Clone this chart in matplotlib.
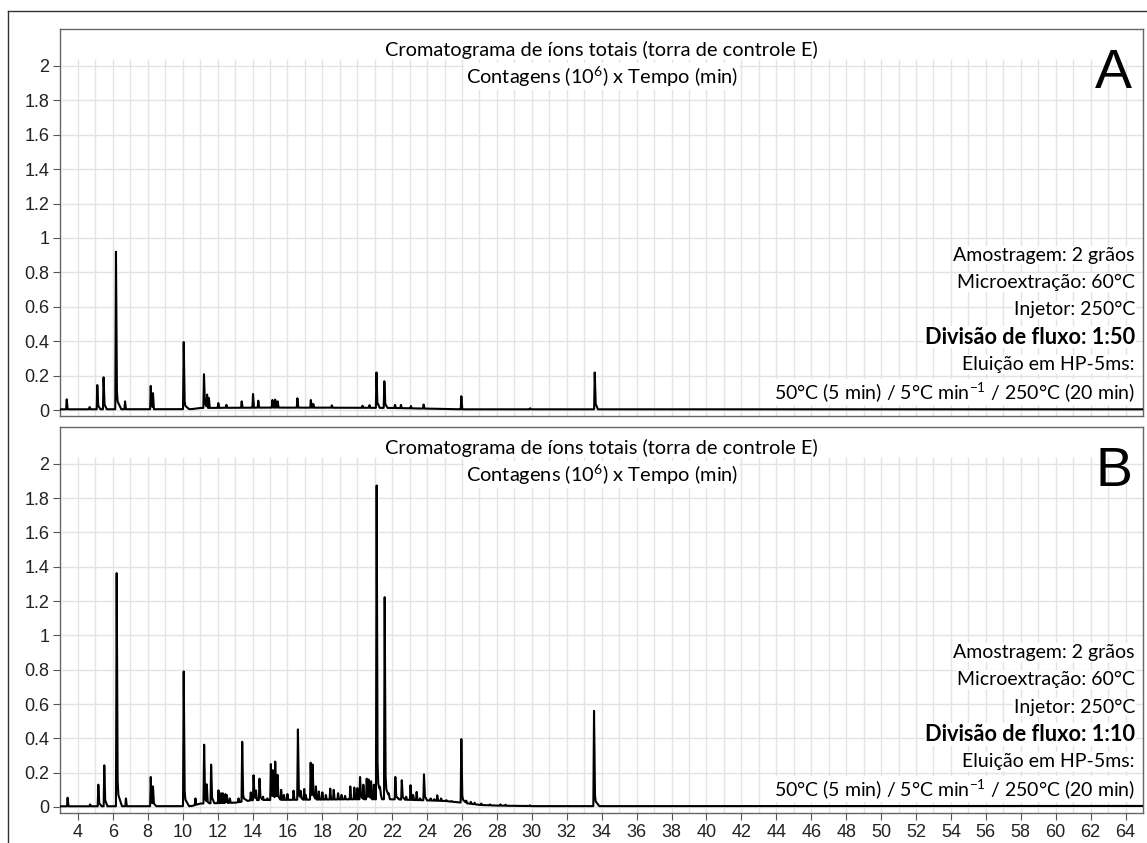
import matplotlib
matplotlib.use("Agg")
import matplotlib.pyplot as plt
import numpy as np

plt.rcParams["mathtext.fontset"] = "custom"
plt.rcParams["mathtext.rm"] = "Lato"
plt.rcParams["mathtext.it"] = "Lato:italic"
plt.rcParams["mathtext.bf"] = "Lato:bold"

# retention time (min) and apex height (10^6 counts)
rt_a = [3.36, 4.67, 5.11, 5.47, 6.18, 6.70, 8.17, 8.30, 10.06, 11.22, 11.40, 11.50,
        12.04, 12.50, 13.38, 14.03, 14.33, 15.14, 15.30, 15.44, 16.57, 17.34, 17.48,
        18.54, 20.30, 20.70, 21.10, 21.55, 22.16, 22.50, 23.07, 23.80, 25.96, 29.90, 33.60]
h_a = [0.062, 0.017, 0.145, 0.19, 0.92, 0.05, 0.14, 0.09, 0.395, 0.208, 0.09, 0.07,
       0.04, 0.03, 0.05, 0.093, 0.054, 0.058, 0.06, 0.05, 0.068, 0.058, 0.035,
       0.027, 0.025, 0.028, 0.218, 0.167, 0.03, 0.03, 0.023, 0.032, 0.08, 0.01, 0.218]

base_t_a = [3.0, 10.5, 11.0, 15.0, 20.0, 22.0, 24.0, 26.0, 65.0]
base_v_a = [0.004, 0.005, 0.012, 0.014, 0.013, 0.012, 0.008, 0.004, 0.004]

rt_b = [3.41, 4.70, 5.17, 5.51, 6.22, 6.75, 8.17, 8.30, 10.06, 10.73, 11.23, 11.38,
        11.63, 12.05, 12.20, 12.30, 12.45, 12.53, 12.70, 13.20, 13.41, 13.90, 14.06,
        14.20, 14.40, 14.60, 14.85, 15.05, 15.17, 15.30, 15.43, 15.64, 15.80, 16.00,
        16.35, 16.60, 16.75, 16.96, 17.05, 17.33, 17.44, 17.63, 17.80, 18.00, 18.20,
        18.45, 18.65, 18.90, 19.10, 19.30, 19.60, 19.83, 20.00, 20.16, 20.35, 20.54,
        20.65, 20.79, 20.95, 21.11, 21.30, 21.57, 21.80, 22.18, 22.35, 22.55, 22.80,
        23.05, 23.20, 23.40, 23.60, 23.82, 24.20, 24.40, 24.58, 24.80, 25.10, 25.40,
        25.96, 26.24, 26.50, 26.72, 27.10, 27.60, 28.20, 28.50, 29.89, 33.56]
h_b = [0.054, 0.015, 0.13, 0.243, 1.363, 0.05, 0.175, 0.11, 0.79, 0.05, 0.363, 0.12,
       0.247, 0.097, 0.08, 0.08, 0.075, 0.07, 0.05, 0.05, 0.38, 0.085, 0.185,
       0.09, 0.165, 0.06, 0.05, 0.25, 0.2, 0.255, 0.175, 0.1, 0.07, 0.075,
       0.095, 0.452, 0.08, 0.105, 0.07, 0.258, 0.23, 0.12, 0.09, 0.085, 0.07,
       0.107, 0.1, 0.08, 0.07, 0.065, 0.12, 0.113, 0.11, 0.175, 0.13, 0.165,
       0.15, 0.145, 0.13, 1.874, 0.07, 1.223, 0.06, 0.175, 0.05, 0.156, 0.06,
       0.127, 0.07, 0.088, 0.05, 0.19, 0.05, 0.045, 0.068, 0.05, 0.04, 0.035,
       0.396, 0.035, 0.03, 0.025, 0.02, 0.015, 0.015, 0.013, 0.01, 0.56]

base_t_b = [3.0, 10.5, 11.0, 13.0, 14.0, 20.0, 22.0, 25.0, 26.0, 27.0, 28.0, 30.0, 34.0, 65.0]
base_v_b = [0.004, 0.005, 0.02, 0.025, 0.04, 0.045, 0.045, 0.035, 0.025, 0.012, 0.008,
            0.005, 0.005, 0.006]

y_ticks = [0, 0.2, 0.4, 0.6, 0.8, 1, 1.2, 1.4, 1.6, 1.8, 2]
x_ticks = list(range(4, 65, 2))

title_lines = ["Cromatograma de íons totais (torra de controle E)",
               "Contagens (10$^6$) x Tempo (min)"]
notes = ["Amostragem: 2 grãos", "Microextração: 60°C", "Injetor: 250°C",
         None, "Eluição em HP-5ms:",
         "50°C (5 min) / 5°C min$^{-1}$ / 250°C (20 min)"]
split = {"A": "Divisão de fluxo: 1:50", "B": "Divisão de fluxo: 1:10"}

TEXT_FONT = ["Lato", "DejaVu Sans"]
TICK_FONT = "Liberation Sans"


def build_trace(rt, h, base_t, base_v):
    t = np.union1d(np.linspace(3.0, 65.0, 12000), np.asarray(rt))
    y = np.interp(t, base_t, base_v)
    for r, hh in zip(rt, h):
        amp = max(hh - np.interp(r, base_t, base_v), 0.0)
        if amp > 0.3:
            xs = [r - 0.04, r, r + 0.05, r + 0.09, r + 0.3]
            ys = [0, amp, amp * 0.12, amp * 0.05, 0]
        elif amp > 0.1:
            xs = [r - 0.035, r, r + 0.05, r + 0.18]
            ys = [0, amp, amp * 0.15, 0]
        else:
            xs = [r - 0.035, r, r + 0.05]
            ys = [0, amp, 0]
        y += np.interp(t, xs, ys, left=0, right=0)
    return t, y


def draw_panel(ax, rt, h, base_t, base_v, letter, show_x):
    ax.set_xlim(3, 65)
    ax.set_ylim(-0.035, 2.215)
    for yv in y_ticks:
        ax.axhline(yv, color="#e3e3e3", lw=1.0, zorder=0)
    ax.vlines(np.arange(4, 65), -0.035, 2.04, color="#e3e3e3", lw=1.0, zorder=0)

    t, y = build_trace(rt, h, base_t, base_v)
    ax.plot(t, y, color="black", lw=1.5, zorder=3)

    ax.set_yticks(y_ticks)
    ax.set_yticklabels([f"{v:g}" for v in y_ticks], family=TICK_FONT)
    ax.tick_params(axis="y", direction="out", length=5, color="#555555",
                   labelsize=13, labelcolor="#222222", pad=3)
    if show_x:
        ax.set_xticks(x_ticks)
        ax.set_xticklabels([str(v) for v in x_ticks], family=TICK_FONT)
        ax.tick_params(axis="x", direction="out", length=5, color="#555555",
                       labelsize=13, labelcolor="#222222", pad=3)
    else:
        ax.set_xticks([])
    for s in ax.spines.values():
        s.set_color("#666666")
        s.set_linewidth(1.0)

    ax.text(0.5, 0.946, title_lines[0], transform=ax.transAxes, ha="center",
            va="center", fontsize=14.4, family=TEXT_FONT, zorder=4)
    ax.text(0.5, 0.876, title_lines[1], transform=ax.transAxes, ha="center",
            va="center", fontsize=14.4, family=TEXT_FONT, zorder=4,
            bbox=dict(facecolor="white", edgecolor="none", pad=1))

    ax.text(0.99, 0.95, letter, transform=ax.transAxes, ha="right", va="top",
            fontsize=40, family=TICK_FONT, zorder=4)

    y0 = 0.416
    for i, line in enumerate(notes):
        yy = y0 - i * 0.0708
        if line is None:
            ax.text(0.9926, yy, split[letter], transform=ax.transAxes, ha="right",
                    va="center", fontsize=15.7, fontweight="bold",
                    family=TEXT_FONT, zorder=4,
                    bbox=dict(facecolor="white", edgecolor="none", pad=0.5))
        else:
            ax.text(0.9926, yy, line, transform=ax.transAxes, ha="right",
                    va="center", fontsize=14, family=TEXT_FONT, zorder=4,
                    bbox=dict(facecolor="white", edgecolor="none", pad=0.5))


fig = plt.figure(figsize=(11.47, 8.43), dpi=100)
ax_a = fig.add_axes([0.0527, 0.5065, 0.9438, 0.4591])
ax_b = fig.add_axes([0.0527, 0.0356, 0.9438, 0.4579])

draw_panel(ax_a, rt_a, h_a, base_t_a, base_v_a, "A", False)
draw_panel(ax_b, rt_b, h_b, base_t_b, base_v_b, "B", True)

# outer frame of the figure
fig.add_artist(plt.Line2D([8 / 1147, 1.0], [1 - 11 / 843, 1 - 11 / 843],
                          transform=fig.transFigure, color="#333333", lw=1.0))
fig.add_artist(plt.Line2D([8 / 1147, 8 / 1147], [0.0, 1 - 11 / 843],
                          transform=fig.transFigure, color="#333333", lw=1.0))

fig.savefig("out.png", dpi=100)
